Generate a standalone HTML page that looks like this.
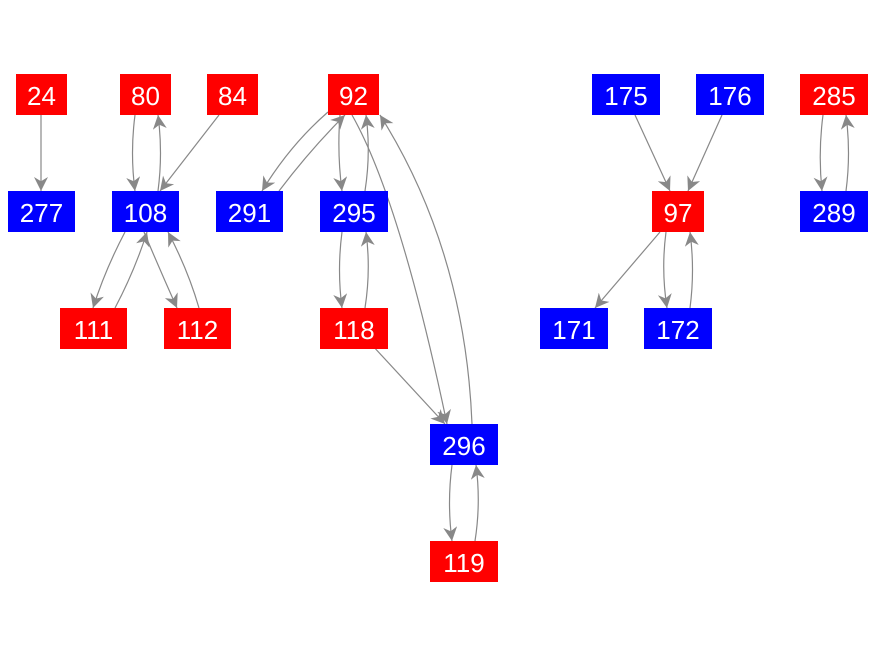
<!DOCTYPE html>
<html><head><meta charset="utf-8"><style>
html,body{margin:0;padding:0;background:#fff;}
svg{display:block}
text{font-family:"Liberation Sans",Arial,sans-serif;font-size:26px;fill:#fff;text-anchor:middle;dominant-baseline:central}
path{fill:none;stroke:#888;stroke-width:1.2}
</style></head><body>
<svg width="877" height="656" viewBox="0 0 877 656" xmlns="http://www.w3.org/2000/svg">
<defs><marker id="a" viewBox="0 0 10 10" refX="10" refY="5" markerWidth="16" markerHeight="14" markerUnits="userSpaceOnUse" orient="auto"><path d="M0,0 L10,5 L0,10 L3,5 Z" style="fill:#888;stroke:none"/></marker></defs>
<g marker-end="url(#a)">
<path d="M41,115 L41,191"/>
<path d="M135,115 Q130,153 135,191"/>
<path d="M158,191 Q163,153 158,115"/>
<path d="M219,115 L160,191"/>
<path d="M328,112 Q290,145 262,191"/>
<path d="M279,191 Q310,150 345,115"/>
<path d="M340,115 Q337,153 342,191"/>
<path d="M365,191 Q371,153 366,115"/>
<path d="M352,115 Q400,200 447,424"/>
<path d="M472,424 Q465,250 380,115"/>
<path d="M342,232 Q337,270 342,308"/>
<path d="M365,308 Q371,270 366,232"/>
<path d="M372,345 L445,424"/>
<path d="M452,465 Q447,503 452,541"/>
<path d="M475,541 Q481,503 476,465"/>
<path d="M125,232 Q105,270 93,308"/>
<path d="M115,308 Q135,270 147,232"/>
<path d="M144,232 Q160,270 177,308"/>
<path d="M199,308 Q188,270 168,232"/>
<path d="M635,115 L670,191"/>
<path d="M722,115 L688,191"/>
<path d="M660,232 L595,308"/>
<path d="M666,232 Q661,270 667,308"/>
<path d="M690,308 Q695,270 690,232"/>
<path d="M823,115 Q818,153 822,191"/>
<path d="M846,191 Q851,153 846,115"/>
</g>
<g>
<rect x="16" y="74" width="51" height="41" fill="#f00"/><text x="41.5" y="96">24</text>
<rect x="120" y="74" width="51" height="41" fill="#f00"/><text x="145.5" y="96">80</text>
<rect x="207" y="74" width="51" height="41" fill="#f00"/><text x="232.5" y="96">84</text>
<rect x="328" y="74" width="51" height="41" fill="#f00"/><text x="353.5" y="96">92</text>
<rect x="592" y="74" width="68" height="41" fill="#00f"/><text x="626" y="96">175</text>
<rect x="696" y="74" width="68" height="41" fill="#00f"/><text x="730" y="96">176</text>
<rect x="800" y="74" width="68" height="41" fill="#f00"/><text x="834" y="96">285</text>
<rect x="8" y="191" width="67" height="41" fill="#00f"/><text x="41.5" y="213">277</text>
<rect x="112" y="191" width="67" height="41" fill="#00f"/><text x="145.5" y="213">108</text>
<rect x="216" y="191" width="67" height="41" fill="#00f"/><text x="249.5" y="213">291</text>
<rect x="320" y="191" width="68" height="41" fill="#00f"/><text x="354" y="213">295</text>
<rect x="652" y="191" width="52" height="41" fill="#f00"/><text x="678" y="213">97</text>
<rect x="800" y="191" width="68" height="41" fill="#00f"/><text x="834" y="213">289</text>
<rect x="60" y="308" width="67" height="41" fill="#f00"/><text x="93.5" y="330">111</text>
<rect x="164" y="308" width="67" height="41" fill="#f00"/><text x="197.5" y="330">112</text>
<rect x="320" y="308" width="68" height="41" fill="#f00"/><text x="354" y="330">118</text>
<rect x="540" y="308" width="68" height="41" fill="#00f"/><text x="574" y="330">171</text>
<rect x="644" y="308" width="68" height="41" fill="#00f"/><text x="678" y="330">172</text>
<rect x="430" y="424" width="68" height="41" fill="#00f"/><text x="464" y="446">296</text>
<rect x="430" y="541" width="68" height="41" fill="#f00"/><text x="464" y="563">119</text>
</g>
</svg>
</body></html>
